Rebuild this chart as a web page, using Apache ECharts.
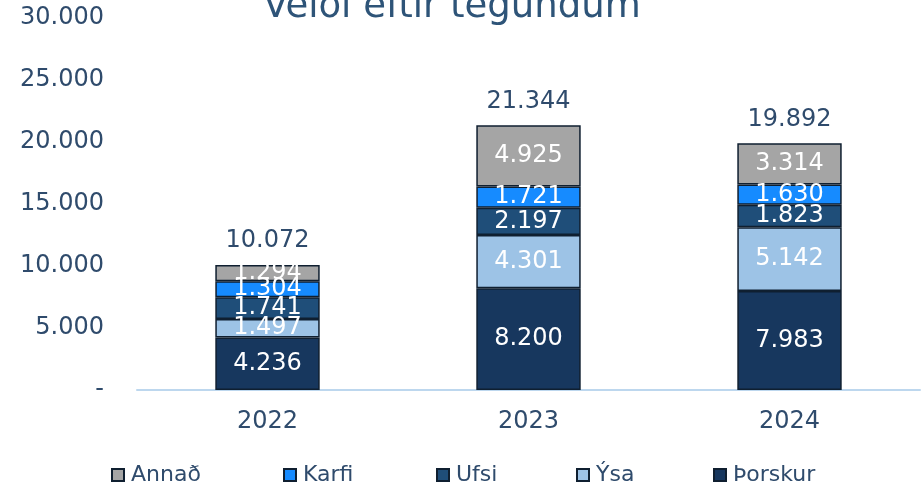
<!DOCTYPE html>
<html>
<head>
<meta charset="utf-8">
<script src="https://cdn.jsdelivr.net/npm/echarts@6/dist/echarts.min.js"></script>
<style>
  html, body { margin: 0; padding: 0; background: #fff; }
  #chart { width: 922px; height: 490px; }
</style>
</head>
<body>
<div id="chart"></div>
<script>
const years = ['2022', '2023', '2024']
const thorskur = [4236, 8200, 7983]
const ysa = [1497, 4301, 5142]
const ufsi = [1741, 2197, 1823]
const karfi = [1304, 1721, 1630]
const annad = [1294, 4925, 3314]
const totals = [10072, 21344, 19892]

const textColor = '#2F4B6C'
const font = 'DejaVu Sans'

// 10072 -> 10.072
function fmt(v) {
  if (v === 0) return '-'
  return String(v).replace(/\B(?=(\d{3})+(?!\d))/g, '.')
}

function part(name, data, color) {
  return {
    name: name,
    type: 'bar',
    stack: 'total',
    data: data,
    barWidth: '40%',
    itemStyle: { color: color, borderColor: '#0F1F30', borderWidth: 1.5 },
    label: {
      show: true,
      position: 'inside',
      color: '#fff',
      fontFamily: font,
      fontSize: 24,
      formatter: p => fmt(p.value)
    }
  }
}

const chart = echarts.init(document.getElementById('chart'))

const legendItems = [
  ['Annað', 106],
  ['Karfi', 278],
  ['Ufsi', 431],
  ['Ýsa', 571],
  ['Þorskur', 708]
]

chart.setOption({
  animation: false,
  title: {
    text: 'Veiði eftir tegundum',
    left: 258,
    top: -16,
    textStyle: { color: '#2E5478', fontFamily: font, fontSize: 37, fontWeight: 'normal' }
  },
  legend: legendItems.map(([n, x]) => ({
    data: [n],
    left: x,
    top: 459,
    icon: 'rect',
    itemWidth: 12,
    itemHeight: 12,
    itemGap: 4,
    itemStyle: { borderColor: '#0F1F30', borderWidth: 2 },
    textStyle: { color: textColor, fontFamily: font, fontSize: 22, padding: [0, 0, 0, 2] }
  })),
  grid: { left: 137, right: 2, top: 18, bottom: 100 },
  xAxis: {
    type: 'category',
    data: years,
    axisLine: { lineStyle: { color: '#BDD7EE', width: 2 } },
    axisTick: { show: false },
    axisLabel: { color: textColor, fontFamily: font, fontSize: 24, margin: 20 }
  },
  yAxis: {
    type: 'value',
    min: 0,
    max: 30000,
    interval: 5000,
    splitLine: { show: false },
    axisLine: { show: false },
    axisTick: { show: false },
    axisLabel: { color: textColor, fontFamily: font, fontSize: 24, margin: 33, formatter: fmt }
  },
  series: [
    part('Þorskur', thorskur, '#17375E'),
    part('Ýsa', ysa, '#9DC3E6'),
    part('Ufsi', ufsi, '#1F4E79'),
    part('Karfi', karfi, '#168BFF'),
    part('Annað', annad, '#A5A5A5'),
    {
      name: 'total',
      type: 'bar',
      stack: 'total',
      data: years.map(() => 0),
      barWidth: '40%',
      itemStyle: { color: 'transparent' },
      label: {
        show: true,
        position: 'top',
        distance: 12,
        color: textColor,
        fontFamily: font,
        fontSize: 24,
        formatter: p => fmt(totals[p.dataIndex])
      }
    }
  ]
})
</script>
</body>
</html>
